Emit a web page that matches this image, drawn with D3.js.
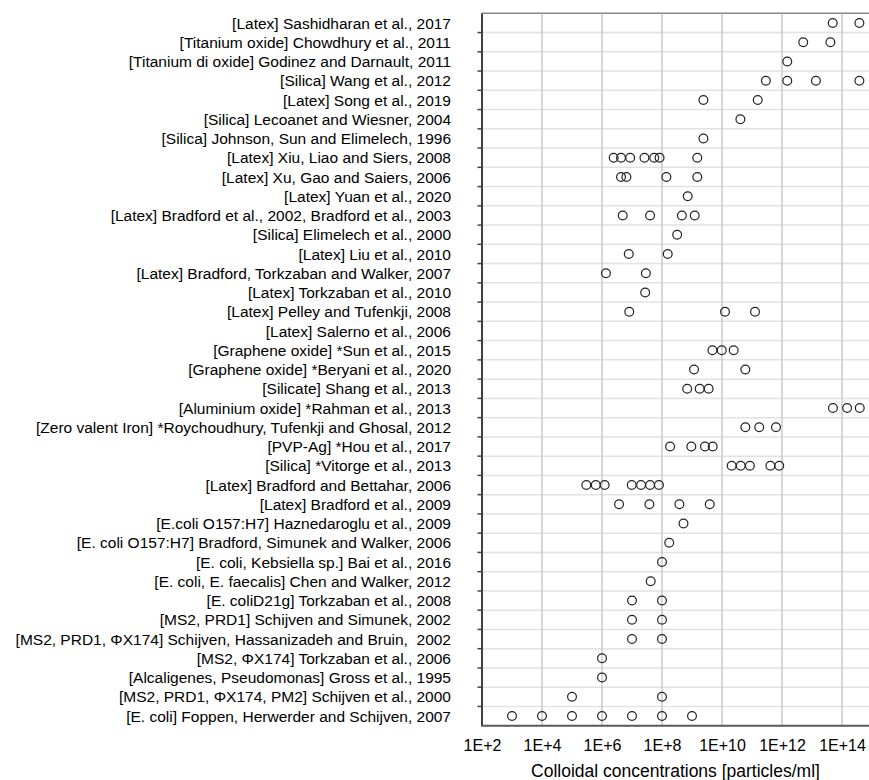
<!DOCTYPE html>
<html>
<head>
<meta charset="utf-8">
<script src="https://cdn.jsdelivr.net/npm/d3@7"></script>
<style>
  body { margin: 0; background: #fff; }
  svg text { font-family: "Liberation Sans", Arial, sans-serif; fill: #000; white-space: pre; }
</style>
</head>
<body>
<div id="chart"></div>
<script>
// studies, top to bottom
const studies = [
  '[Latex] Sashidharan et al., 2017',
  '[Titanium oxide] Chowdhury et al., 2011',
  '[Titanium di oxide] Godinez and Darnault, 2011',
  '[Silica] Wang et al., 2012',
  '[Latex] Song et al., 2019',
  '[Silica] Lecoanet and Wiesner, 2004',
  '[Silica] Johnson, Sun and Elimelech, 1996',
  '[Latex] Xiu, Liao and Siers, 2008',
  '[Latex] Xu, Gao and Saiers, 2006',
  '[Latex] Yuan et al., 2020',
  '[Latex] Bradford et al., 2002, Bradford et al., 2003',
  '[Silica] Elimelech et al., 2000',
  '[Latex] Liu et al., 2010',
  '[Latex] Bradford, Torkzaban and Walker, 2007',
  '[Latex] Torkzaban et al., 2010',
  '[Latex] Pelley and Tufenkji, 2008',
  '[Latex] Salerno et al., 2006',
  '[Graphene oxide] *Sun et al., 2015',
  '[Graphene oxide] *Beryani et al., 2020',
  '[Silicate] Shang et al., 2013',
  '[Aluminium oxide] *Rahman et al., 2013',
  '[Zero valent Iron] *Roychoudhury, Tufenkji and Ghosal, 2012',
  '[PVP-Ag] *Hou et al., 2017',
  '[Silica] *Vitorge et al., 2013',
  '[Latex] Bradford and Bettahar, 2006',
  '[Latex] Bradford et al., 2009',
  '[E.coli O157:H7] Haznedaroglu et al., 2009',
  '[E. coli O157:H7] Bradford, Simunek and Walker, 2006',
  '[E. coli, Kebsiella sp.] Bai et al., 2016',
  '[E. coli, E. faecalis] Chen and Walker, 2012',
  '[E. coliD21g] Torkzaban et al., 2008',
  '[MS2, PRD1] Schijven and Simunek, 2002',
  '[MS2, PRD1, \u03A6X174] Schijven, Hassanizadeh and Bruin,  2002',
  '[MS2, \u03A6X174] Torkzaban et al., 2006',
  '[Alcaligenes, Pseudomonas] Gross et al., 1995',
  '[MS2, PRD1, \u03A6X174, PM2] Schijven et al., 2000',
  '[E. coli] Foppen, Herwerder and Schijven, 2007',
]

// concentrations used in each study (particles/ml), same order as studies
const concentrations = [
  [4.9e13, 3.8e14],
  [5.1e12, 4.1e13],
  [1.5e12],
  [2.9e11, 1.5e12, 1.35e13, 3.8e14],
  [2.4e9, 1.55e11],
  [4.1e10],
  [2.4e9],
  [2.45e6, 4.3e6, 8.7e6, 2.6e7, 5.5e7, 8.3e7, 1.5e9],
  [4.3e6, 6.5e6, 1.4e8, 1.5e9],
  [7.2e8],
  [4.9e6, 4e7, 4.6e8, 1.23e9],
  [3.2e8],
  [7.8e6, 1.55e8],
  [1.35e6, 2.9e7],
  [2.75e7],
  [8.1e6, 1.26e10, 1.26e11],
  [],
  [4.8e9, 9.8e9, 2.45e10],
  [1.17e9, 6e10],
  [6.9e8, 1.8e9, 3.6e9],
  [5e13, 1.48e14, 3.9e14],
  [6e10, 1.74e11, 6.3e11],
  [1.86e8, 9.5e8, 2.7e9, 4.9e9],
  [2.1e10, 4.2e10, 8.5e10, 4.1e11, 8.1e11],
  [3e5, 6.2e5, 1.23e6, 9.8e6, 2e7, 4e7, 7.9e7],
  [3.7e6, 3.8e7, 3.8e8, 3.9e9],
  [5.2e8],
  [1.74e8],
  [1e8],
  [4.2e7],
  [1e7, 1e8],
  [1e7, 1e8],
  [1e7, 1e8],
  [1e6],
  [1e6],
  [1e5, 1e8],
  [1e3, 1e4, 1e5, 1e6, 1e7, 1e8, 1e9],
]

const xTicks = [1e2, 1e4, 1e6, 1e8, 1e10, 1e12, 1e14]
const xTickLabels = ['1E+2', '1E+4', '1E+6', '1E+8', '1E+10', '1E+12', '1E+14']
const xDomain = [1e2, 1e16]
const xTitle = 'Colloidal concentrations [particles/ml]'

const points = []
studies.forEach((s, i) => {
  concentrations[i].forEach((v) => points.push({ study: s, value: v }))
})

const totalWidth = 869
const totalHeight = 780
const margin = { top: 13.3, left: 482, bottom: 54.3 }
const plotWidth = 420 // runs past the right edge, like the source
const plotHeight = totalHeight - margin.top - margin.bottom
const visibleWidth = totalWidth - margin.left

const svg = d3
  .select('#chart')
  .append('svg')
  .attr('width', totalWidth)
  .attr('height', totalHeight)

const g = svg
  .append('g')
  .attr('transform', `translate(${margin.left},${margin.top})`)

const x = d3.scaleLog().domain(xDomain).range([0, plotWidth])
const y = d3.scaleBand().domain(studies).range([0, plotHeight]).padding(0)

// horizontal grid lines at row boundaries
const boundaries = studies.map((s) => y(s)).concat([plotHeight])
g.append('g')
  .selectAll('line')
  .data(boundaries.slice(1, -1))
  .enter()
  .append('line')
  .attr('x1', 0)
  .attr('x2', plotWidth)
  .attr('y1', (d) => d)
  .attr('y2', (d) => d)
  .attr('stroke', '#e2e2e2')
  .attr('stroke-width', 1.5)

// small ticks left of the axis at each boundary
g.append('g')
  .selectAll('line')
  .data(boundaries.slice(1, -1))
  .enter()
  .append('line')
  .attr('x1', -4.5)
  .attr('x2', 0)
  .attr('y1', (d) => d)
  .attr('y2', (d) => d)
  .attr('stroke', '#404040')
  .attr('stroke-width', 1.5)

// vertical grid lines
g.append('g')
  .selectAll('line')
  .data(xTicks.slice(1).concat([1e16]))
  .enter()
  .append('line')
  .attr('x1', (d) => x(d))
  .attr('x2', (d) => x(d))
  .attr('y1', 0)
  .attr('y2', plotHeight)
  .attr('stroke', '#c8c8c8')
  .attr('stroke-width', 1.5)

// top border
g.append('line')
  .attr('x1', 0)
  .attr('x2', plotWidth)
  .attr('y1', 0)
  .attr('y2', 0)
  .attr('stroke', '#8a8a8a')
  .attr('stroke-width', 1.5)

// study labels
const yAxis = g.append('g').call(d3.axisLeft(y).tickSize(0).tickPadding(31))
yAxis.select('.domain').remove()
yAxis
  .selectAll('text')
  .style('font-size', '15.5px')
  .attr('dy', '0.36em')

// x axis
const xAxis = g
  .append('g')
  .attr('transform', `translate(0,${plotHeight})`)
  .call(
    d3
      .axisBottom(x)
      .tickValues(xTicks)
      .tickFormat((d, i) => xTickLabels[i])
      .tickSize(0)
      .tickPadding(14)
  )
xAxis.select('.domain').remove()
xAxis.selectAll('text').style('font-size', '16px')

// axis lines
g.append('line')
  .attr('x1', 0)
  .attr('x2', 0)
  .attr('y1', 0)
  .attr('y2', plotHeight)
  .attr('stroke', '#404040')
  .attr('stroke-width', 2)
g.append('line')
  .attr('x1', -1)
  .attr('x2', plotWidth)
  .attr('y1', plotHeight)
  .attr('y2', plotHeight)
  .attr('stroke', '#5a5a5a')
  .attr('stroke-width', 2)

// data points
g.append('g')
  .selectAll('circle')
  .data(points)
  .enter()
  .append('circle')
  .attr('cx', (d) => x(d.value))
  .attr('cy', (d) => y(d.study) + y.bandwidth() / 2)
  .attr('r', 4.4)
  .attr('fill', 'none')
  .attr('stroke', '#222')
  .attr('stroke-width', 1.2)

// x axis title, centred on the visible part of the plot
svg
  .append('text')
  .attr('x', margin.left + visibleWidth / 2)
  .attr('y', 777)
  .attr('text-anchor', 'middle')
  .style('font-size', '17.5px')
  .text(xTitle)
</script>
</body>
</html>
